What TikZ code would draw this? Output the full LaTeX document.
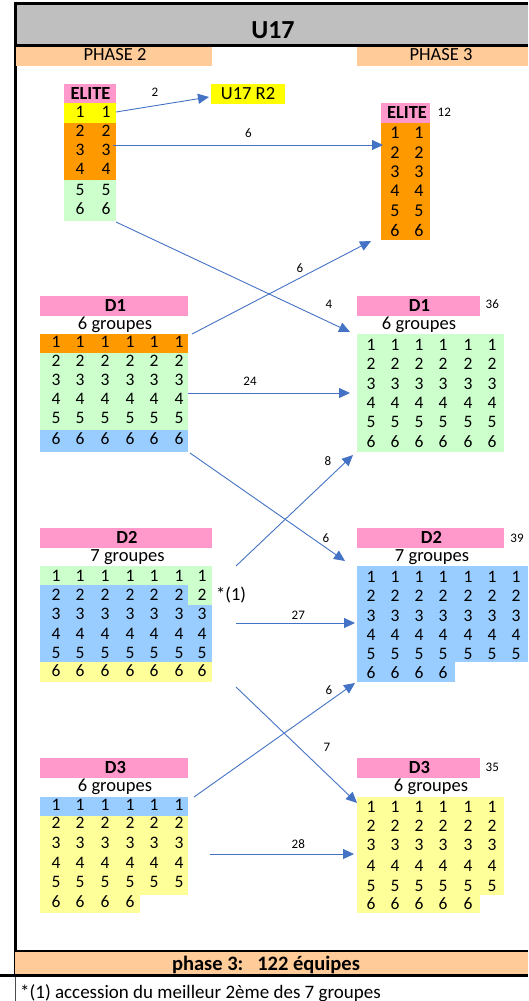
\documentclass[tikz,border=0pt]{standalone}
\usepackage{fontspec}
\setmainfont{Carlito}
\usetikzlibrary{arrows.meta}
\definecolor{gband}{RGB}{191,191,191}
\definecolor{peach}{RGB}{255,204,153}
\definecolor{pinkh}{RGB}{255,153,204}
\definecolor{yel}{RGB}{255,255,0}
\definecolor{org}{RGB}{255,153,0}
\definecolor{lgreen}{RGB}{204,255,204}
\definecolor{lblue}{RGB}{153,204,255}
\definecolor{lyel}{RGB}{255,255,153}
\definecolor{arrowblue}{RGB}{68,114,196}
\tikzset{
  blk/.style={draw=none, inner sep=0pt, outer sep=0pt, anchor=north west},
  num/.style={font=\fontsize{17.5}{17.5}\selectfont, inner sep=0pt, anchor=center},
  bignum/.style={font=\fontsize{18}{18}\selectfont, inner sep=0pt, anchor=center},
  small/.style={font=\fontsize{13}{13}\selectfont, inner sep=0pt, anchor=center},
  hdr/.style={font=\bfseries\fontsize{18.5}{18.5}\selectfont, inner sep=0pt, anchor=center},
  grp/.style={font=\fontsize{18.5}{18.5}\selectfont, inner sep=0pt, anchor=base},
  phase/.style={font=\fontsize{18.5}{18.5}\selectfont, inner sep=0pt, anchor=center},
  flow/.style={draw=arrowblue, line width=0.9pt, -{Triangle[length=11pt,width=10pt]}},
  frame/.style={line width=3pt, black}
}
\newcommand\blkn[6]{\node[blk, fill=#1, minimum width=#4pt, minimum height=#5pt] (#6) at (#2,#3) {};}
\newcommand\digitrow[5]{\foreach \xx [count=\cc] in {#4} \node[#5] (#1-\cc) at (\xx,#2) {#3};}
\begin{document}
\begin{tikzpicture}[x=1pt,y=-1pt]
\useasboundingbox (0,0) rectangle (528,1001);
% frame
\fill[gband] (15,3) rectangle (528,44);
\draw[frame] (14,3) -- (528,3);
\draw[frame] (15,45) -- (528,45);
\draw[frame] (15,1.5) -- (15,976);
\fill[peach] (15,951) rectangle (528,975);
\draw[line width=2.5pt] (15,951) -- (528,951);
\draw[line width=2.5pt] (0,975.5) -- (528,975.5);
\draw[line width=0.8pt, black!70] (15,977) -- (15,1001);
\node[font=\bfseries\fontsize{26}{26}\selectfont, inner sep=0pt] (title) at (273,30) {U17};
% phase bands
\blkn{peach}{16}{47}{196}{19}{ph2}
\blkn{peach}{357}{47}{171}{19}{ph3}
\node[phase] (ph2t) at (115,54.5) {PHASE 2};
\node[phase] (ph3t) at (441,54.5) {PHASE 3};
% ELITE left
\blkn{pinkh}{64}{84}{52}{19.3}{elLh}
\blkn{yel}{64}{103}{52}{20.3}{elLy}
\blkn{org}{64}{123}{52}{57.3}{elLo}
\blkn{lgreen}{64}{180}{52}{41}{elLg}
\node[hdr] (elLt) at (90.5,93.5) {ELITE};
\digitrow{elL1}{112}{1}{80,106}{num}
\digitrow{elL2}{131}{2}{80,106}{num}
\digitrow{elL3}{150}{3}{80,106}{num}
\digitrow{elL4}{169}{4}{80,106}{num}
\digitrow{elL5}{190}{5}{80,106}{num}
\digitrow{elL6}{209}{6}{80,106}{num}
% U17 R2
\blkn{yel}{211}{84}{74}{20}{r2}
\node[phase, font=\fontsize{18.5}{18.5}\selectfont] (r2t) at (248,94) {U17 R2};
% ELITE right
\blkn{pinkh}{381}{103}{49}{20.3}{elRh}
\blkn{org}{381}{123}{49}{117}{elRo}
\node[hdr] (elRt) at (407,112.5) {ELITE};
\digitrow{elR1}{133}{1}{395,419}{bignum}
\digitrow{elR2}{152.5}{2}{395,419}{bignum}
\digitrow{elR3}{171.5}{3}{395,419}{bignum}
\digitrow{elR4}{191}{4}{395,419}{bignum}
\digitrow{elR5}{211}{5}{395,419}{bignum}
\digitrow{elR6}{230}{6}{395,419}{bignum}
% D1 left
\blkn{pinkh}{40}{296}{148}{20}{d1Lh}
\node[hdr] (d1Lt) at (115.5,305) {D1};
\node[grp] (d1Lg) at (115,329.5) {6 groupes};
\blkn{org}{40}{334}{148}{19.3}{d1Lo}
\blkn{lgreen}{40}{353}{148}{77.3}{d1Lg2}
\blkn{lblue}{40}{430}{148}{22}{d1Lb}
\digitrow{d1L1}{342}{1}{56,80,105,130,154,179}{num}
\digitrow{d1L2}{361}{2}{56,80,105,130,154,179}{num}
\digitrow{d1L3}{380}{3}{56,80,105,130,154,179}{num}
\digitrow{d1L4}{399}{4}{56,80,105,130,154,179}{num}
\digitrow{d1L5}{418}{5}{56,80,105,130,154,179}{num}
\digitrow{d1L6}{439}{6}{56,80,105,130,154,179}{num}
% D1 right
\blkn{pinkh}{357}{296}{123}{20}{d1Rh}
\node[hdr] (d1Rt) at (419.5,305) {D1};
\node[grp] (d1Rg) at (419,329.5) {6 groupes};
\blkn{lgreen}{357}{334}{147}{118}{d1Rb}
\digitrow{d1R1}{345}{1}{371,395,419,443,468,492}{num}
\digitrow{d1R2}{364}{2}{371,395,419,443,468,492}{num}
\digitrow{d1R3}{384}{3}{371,395,419,443,468,492}{num}
\digitrow{d1R4}{403}{4}{371,395,419,443,468,492}{num}
\digitrow{d1R5}{422}{5}{371,395,419,443,468,492}{num}
\digitrow{d1R6}{442}{6}{371,395,419,443,468,492}{num}
% D2 left
\blkn{pinkh}{40}{528}{172}{20}{d2Lh}
\node[hdr] (d2Lt) at (127,537.5) {D2};
\node[grp] (d2Lg) at (127.5,561) {7 groupes};
\blkn{lgreen}{40}{566}{172}{19.3}{d2Lg1}
\blkn{lblue}{40}{585}{172}{77.3}{d2Lb}
\blkn{lgreen}{188}{585}{24}{20}{d2Lg2}
\blkn{lyel}{40}{662}{172}{20}{d2Ly}
\digitrow{d2L1}{576}{1}{56,80,105,130,154,179,202}{num}
\digitrow{d2L2}{595}{2}{56,80,105,130,154,179,202}{num}
\digitrow{d2L3}{614}{3}{56,80,105,130,154,179,202}{num}
\digitrow{d2L4}{634}{4}{56,80,105,130,154,179,202}{num}
\digitrow{d2L5}{652.5}{5}{56,80,105,130,154,179,202}{num}
\digitrow{d2L6}{671}{6}{56,80,105,130,154,179,202}{num}
\node[grp, anchor=base west] (star) at (216,600) {*(1)};
% D2 right
\blkn{pinkh}{357}{528}{147}{20}{d2Rh}
\node[hdr] (d2Rt) at (431.5,537.5) {D2};
\node[grp] (d2Rg) at (432,561) {7 groupes};
\blkn{lblue}{357}{566}{171}{96.3}{d2Rb}
\blkn{lblue}{357}{662}{98}{20}{d2Rb2}
\digitrow{d2R1}{577}{1}{371,395,419,443,468,492,516}{num}
\digitrow{d2R2}{596}{2}{371,395,419,443,468,492,516}{num}
\digitrow{d2R3}{616}{3}{371,395,419,443,468,492,516}{num}
\digitrow{d2R4}{635}{4}{371,395,419,443,468,492,516}{num}
\digitrow{d2R5}{654}{5}{371,395,419,443,468,492,516}{num}
\digitrow{d2R6}{672.5}{6}{371,395,419,443}{num}
% D3 left
\blkn{pinkh}{40}{758}{148}{20}{d3Lh}
\node[hdr] (d3Lt) at (115.5,767) {D3};
\node[grp] (d3Lg) at (115,791) {6 groupes};
\blkn{lblue}{40}{797}{148}{19.3}{d3Lb}
\blkn{lyel}{40}{816}{148}{79.3}{d3Ly}
\blkn{lyel}{40}{895}{100}{18}{d3Ly2}
\digitrow{d3L1}{805}{1}{56,80,105,130,154,179}{num}
\digitrow{d3L2}{823}{2}{56,80,105,130,154,179}{num}
\digitrow{d3L3}{843}{3}{56,80,105,130,154,179}{num}
\digitrow{d3L4}{863}{4}{56,80,105,130,154,179}{num}
\digitrow{d3L5}{882}{5}{56,80,105,130,154,179}{num}
\digitrow{d3L6}{902}{6}{56,80,105,130}{num}
% D3 right
\blkn{pinkh}{357}{758}{123}{20}{d3Rh}
\node[hdr] (d3Rt) at (419.5,767) {D3};
\node[grp] (d3Rg) at (431,791) {6 groupes};
\blkn{lyel}{357}{797}{147}{98.3}{d3Ry}
\blkn{lyel}{357}{895}{123}{18}{d3Ry2}
\digitrow{d3R1}{807}{1}{371,395,419,443,468,492}{num}
\digitrow{d3R2}{826}{2}{371,395,419,443,468,492}{num}
\digitrow{d3R3}{845}{3}{371,395,419,443,468,492}{num}
\digitrow{d3R4}{866}{4}{371,395,419,443,468,492}{num}
\digitrow{d3R5}{886}{5}{371,395,419,443,468,492}{num}
\digitrow{d3R6}{904}{6}{371,395,419,443,468}{num}
% small labels
\node[small] (l2) at (155,92) {2};
\node[small] (l6a) at (248.3,133.5) {6};
\node[small] (l12) at (444.3,112) {12};
\node[small] (l6b) at (300,268) {6};
\node[small] (l4) at (329,304) {4};
\node[small] (l36) at (492.3,304) {36};
\node[small] (l24) at (250,381) {24};
\node[small] (l8) at (328,461) {8};
\node[small] (l6c) at (326,538) {6};
\node[small] (l39) at (517,538) {39};
\node[small] (l27) at (298.3,615) {27};
\node[small] (l6d) at (329,690) {6};
\node[small] (l7) at (327,747.5) {7};
\node[small] (l35) at (492.3,767.3) {35};
\node[small] (l28) at (298.3,844) {28};
% connector end points
\coordinate (a1s) at (116,112);   \coordinate (a1e) at (209,97);
\coordinate (a2s) at (113,145);   \coordinate (a2e) at (383,145);
\coordinate (a3s) at (116,222);   \coordinate (a3e) at (350,332);
\coordinate (a4s) at (192,334);   \coordinate (a4e) at (371,241);
\coordinate (a5s) at (188,393);   \coordinate (a5e) at (350,393);
\coordinate (a6s) at (190,453);   \coordinate (a6e) at (345,561);
\coordinate (a7s) at (236,566);   \coordinate (a7e) at (353,455);
\coordinate (a8s) at (236,623);   \coordinate (a8e) at (355,623);
\coordinate (a9s) at (236,687);   \coordinate (a9e) at (357,803);
\coordinate (a10s) at (194,797);  \coordinate (a10e) at (355,683);
\coordinate (a11s) at (210,854);  \coordinate (a11e) at (354,854);
\draw[flow] (a1s) -- (a1e);
\draw[flow] (a2s) -- (a2e);
\draw[flow] (a3s) -- (a3e);
\draw[flow] (a4s) -- (a4e);
\draw[flow] (a5s) -- (a5e);
\draw[flow] (a6s) -- (a6e);
\draw[flow] (a7s) -- (a7e);
\draw[flow] (a8s) -- (a8e);
\draw[flow] (a9s) -- (a9e);
\draw[flow] (a10s) -- (a10e);
\draw[flow] (a11s) -- (a11e);
% bottom
\node[font=\bfseries\fontsize{20.5}{20.5}\selectfont, inner sep=0pt, anchor=base] (tot) at (266,970) {phase 3:\ \ \ 122 équipes};
\node[font=\fontsize{19}{19}\selectfont, inner sep=0pt, anchor=base west] (foot) at (20,998) {*(1) accession du meilleur 2ème des 7 groupes};
\end{tikzpicture}
\end{document}
